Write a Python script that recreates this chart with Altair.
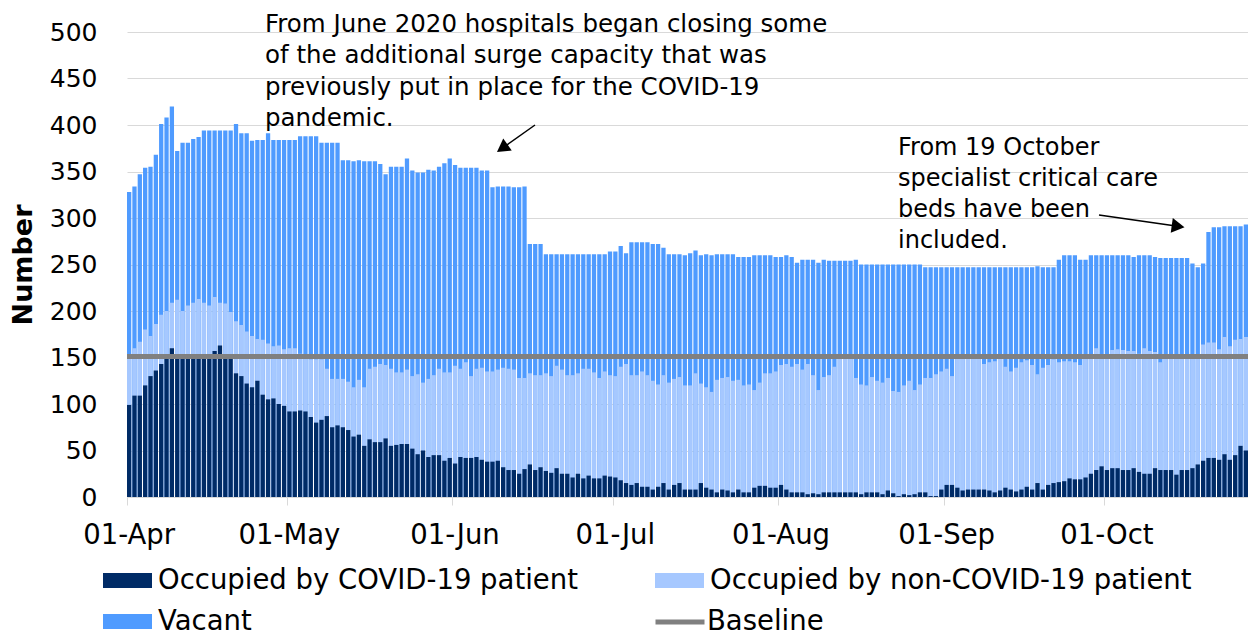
import altair as alt
import pandas as pd

# ---- categories ----
days = [d.strftime("%d-%b") for d in pd.date_range("2020-04-01", periods=210, freq="D")]
month_starts = ["01-Apr", "01-May", "01-Jun", "01-Jul", "01-Aug", "01-Sep", "01-Oct"]
y_ticks = [0, 50, 100, 150, 200, 250, 300, 350, 400, 450, 500]

# ---- series ----
# top of each bar = all beds (occupied + vacant)
total_beds = [
    328, 334, 347, 354, 355, 368, 401, 408, 420,
    372, 381, 381, 385, 387,
    394, 394, 394, 394, 394, 394,
    401, 391, 391, 383, 384, 384, 391,
    384, 384, 384, 384, 384, 388, 388, 388, 388,
    381, 381, 381, 381, 362, 362, 361, 362, 361, 361, 361, 358,
    347, 355, 355, 355, 364, 351, 349, 349, 352, 351, 355,
    359, 364, 357, 354, 354, 354, 354, 351, 351,
    333, 334, 334, 334, 333, 333, 334, 272, 272, 272,
    261, 261, 261, 261, 261, 261, 261, 261, 261, 261, 261, 261,
    264, 264, 270, 262, 274, 274, 274, 274, 272, 272, 268, 261, 261, 261, 260, 262, 265,
    260, 261, 260, 261, 261, 261, 261, 258, 258, 258, 260, 260, 260, 260, 258, 258, 260, 258,
    252, 255, 255, 255, 252, 255, 254, 254, 254, 254, 254, 255,
    250, 250, 250, 250, 250, 250, 250, 250, 250, 250, 250, 250,
    247, 247, 247, 247, 247, 247, 247, 247, 247, 247, 247, 247, 247, 247, 247, 247, 247,
    247, 247, 247, 247, 248, 247, 247, 247,
    255, 260, 260, 260, 255, 255, 260, 260, 260, 260, 260, 260, 260, 260, 258, 260, 260, 260,
    258, 257, 257, 257, 257, 257, 257, 251, 247, 251, 285, 290, 290, 291, 291, 291, 291, 293,
]
# occupied beds (COVID-19 + non-COVID-19)
occupied_beds = [
    150, 160, 167, 180, 173, 186, 196, 200, 209, 212, 200, 206, 209, 213, 209, 206, 215, 209,
    208, 199, 189, 185, 178, 173, 170, 169, 165, 162, 163, 159, 160, 160, 154, 150, 148, 148,
    148, 138, 127, 127, 127, 124, 118, 126, 118, 138, 140, 143, 142, 138, 134, 134, 137,
    130, 132, 123, 127, 131, 138, 134, 134, 141, 138, 145, 130, 138, 139, 135, 135, 137,
    139, 138, 137, 128, 128, 133, 131, 131, 133, 130, 141, 137, 131, 131, 133, 138, 138, 134,
    128, 135, 131, 130, 140, 143, 131, 131, 135, 131, 125, 121, 131, 123, 127, 129, 120, 120, 133,
    122, 118, 113, 126, 128, 129, 125, 126, 120, 121, 115, 123, 133, 133, 135, 142, 143, 140,
    143, 137, 143, 131, 115, 129, 131, 140, 150, 150, 150, 128, 121, 120, 129, 125, 123,
    128, 114, 113, 120, 125, 115, 121, 128, 128, 132, 135, 138, 130, 150, 150, 150, 150, 150,
    143, 145, 146, 150, 140, 135, 139, 145, 147, 142, 132, 139, 142, 148,
    145, 146, 146, 145, 142, 150, 150, 160, 150, 150, 158, 159, 158, 157, 157, 154, 160, 157,
    156, 145, 150, 150, 150, 150, 150, 150, 150, 164, 166, 166, 159, 172, 162, 169, 170, 172,
]
# beds occupied by COVID-19 patients
covid_beds = [
    99, 109, 109, 120, 130, 136, 143, 149, 160, 152, 152, 152, 152, 152, 152, 152, 157, 163,
    152, 150, 133, 130, 122, 118, 125, 110, 105, 106, 100, 98, 92, 92, 93, 92, 86, 80,
    83, 87, 75, 77, 75, 72, 65, 67, 55, 62, 59, 59, 63, 55, 56, 57, 57,
    52, 46, 50, 43, 45, 45, 39, 42, 36, 43, 42, 42, 43, 40, 38, 38, 39,
    32, 29, 29, 25, 30, 35, 29, 32, 28, 26, 31, 25, 25, 21, 25, 20, 23, 20,
    20, 23, 22, 21, 18, 15, 13, 15, 11, 11, 8, 11, 15, 8, 13, 15, 8, 8, 8,
    15, 10, 8, 5, 8, 7, 5, 8, 5, 5, 10, 12, 12, 10, 10, 13, 8, 5,
    5, 5, 3, 4, 3, 5, 5, 5, 5, 5, 5, 5, 3, 5, 5, 5, 3,
    7, 4, 1, 3, 2, 3, 5, 5, 1, 1, 8, 13, 13, 10, 7, 8, 8, 8,
    8, 7, 5, 7, 10, 8, 6, 8, 11, 8, 15, 8, 13, 15,
    16, 17, 20, 19, 19, 21, 25, 29, 33, 29, 31, 31, 29, 29, 31, 27, 25, 25,
    31, 29, 29, 29, 24, 29, 29, 31, 35, 39, 42, 42, 40, 46, 40, 45, 55, 50,
]
baseline_beds = 151

assert len(days) == len(total_beds) == len(occupied_beds) == len(covid_beds) == 210

series_names = ["Occupied by COVID-19 patient", "Occupied by non-COVID-19 patient", "Vacant"]
series_colors = ["#002b66", "#a6c8ff", "#4f9bff"]

note1 = ["From June 2020 hospitals began closing some",
         "of the additional surge capacity that was",
         "previously put in place for the COVID-19",
         "pandemic."]
note2 = ["From 19 October", "specialist critical care", "beds have been", "included."]

FONT = "DejaVu Sans"

# bars overlaid back-to-front: full height (vacant colour), occupied, covid
df = pd.concat([
    pd.DataFrame({"day": days, "series": "Vacant", "value": total_beds, "z": 0}),
    pd.DataFrame({"day": days, "series": "Occupied by non-COVID-19 patient", "value": occupied_beds, "z": 1}),
    pd.DataFrame({"day": days, "series": "Occupied by COVID-19 patient", "value": covid_beds, "z": 2}),
], ignore_index=True)

bars = alt.Chart(df).mark_bar().encode(
    x=alt.X("day:N", sort=days,
            scale=alt.Scale(paddingInner=0.2, paddingOuter=0),
            axis=alt.Axis(values=month_starts, bandPosition=0, labelAngle=0, title=None,
                          domainColor="#d9d9d9", tickColor="#d9d9d9", tickSize=8,
                          labelPadding=16, labelFont=FONT, labelFontSize=27.5,
                          labelColor="black", grid=False)),
    y=alt.Y("value:Q", stack=None,
            scale=alt.Scale(domain=[0, 500], nice=False),
            axis=alt.Axis(values=y_ticks, grid=True, gridColor="#d9d9d9", domain=False,
                          ticks=False, tickSize=0, labelPadding=30, labelFont=FONT,
                          labelFontSize=25, labelColor="black", title="Number",
                          titleFont=FONT, titleFontSize=27, titleFontWeight="bold",
                          titleColor="black", titlePadding=12)),
    fill=alt.Fill("series:N",
                  scale=alt.Scale(domain=series_names, range=series_colors),
                  legend=alt.Legend(title=None, orient="none", legendX=-24, legendY=524,
                                    direction="horizontal", columns=2, columnPadding=77,
                                    rowPadding=3, padding=0,
                                    symbolType="M-1,-0.31L1,-0.31L1,0.31L-1,0.31Z",
                                    symbolSize=2401, symbolStrokeWidth=0, symbolOpacity=1,
                                    labelFont=FONT, labelFontSize=27.5, labelColor="black",
                                    labelOffset=6, labelLimit=0)),
    order=alt.Order("z:Q"),
)

base_df = pd.DataFrame({"series": ["Baseline"], "value": [baseline_beds]})
rule = alt.Chart(base_df).mark_rule(strokeWidth=5).encode(
    y="value:Q",
    stroke=alt.Stroke("series:N", scale=alt.Scale(domain=["Baseline"], range=["#808080"]),
                      legend=alt.Legend(title=None, orient="none", legendX=526, legendY=563,
                                        padding=0, symbolType="stroke", symbolSize=2401,
                                        symbolStrokeWidth=5, labelFont=FONT,
                                        labelFontSize=27.5, labelColor="black",
                                        labelOffset=0, labelLimit=0)),
)

one = pd.DataFrame({"k": [0]})
ann1 = alt.Chart(one).mark_text(align="left", baseline="alphabetic", font=FONT, fontSize=24.5,
                                lineHeight=31.3, color="black").encode(
    x=alt.value(138), y=alt.value(0), text=alt.value(note1))
ann2 = alt.Chart(one).mark_text(align="left", baseline="alphabetic", font=FONT, fontSize=24,
                                lineHeight=31, color="black").encode(
    x=alt.value(771), y=alt.value(123), text=alt.value(note2))

arrow1 = alt.Chart(one).mark_rule(color="black", strokeWidth=1.5).encode(
    x=alt.value(408), y=alt.value(93), x2=alt.value(377), y2=alt.value(115))
head1 = alt.Chart(one).mark_point(shape="triangle", filled=True, size=220, angle=235,
                                  color="black", opacity=1).encode(
    x=alt.value(377), y=alt.value(115))
arrow2 = alt.Chart(one).mark_rule(color="black", strokeWidth=1.5).encode(
    x=alt.value(972), y=alt.value(183), x2=alt.value(1049), y2=alt.value(194))
head2 = alt.Chart(one).mark_point(shape="triangle", filled=True, size=220, angle=98,
                                  color="black", opacity=1).encode(
    x=alt.value(1049), y=alt.value(194))

chart = alt.layer(bars, rule, ann1, ann2, arrow1, head1, arrow2, head2).properties(
    width=1121, height=465,
    padding={"left": 119, "top": 24, "right": 0, "bottom": 137},
    autosize="none",
).configure_view(strokeWidth=0)

chart.save("out.html", embed_options={"renderer": "svg", "actions": False})
